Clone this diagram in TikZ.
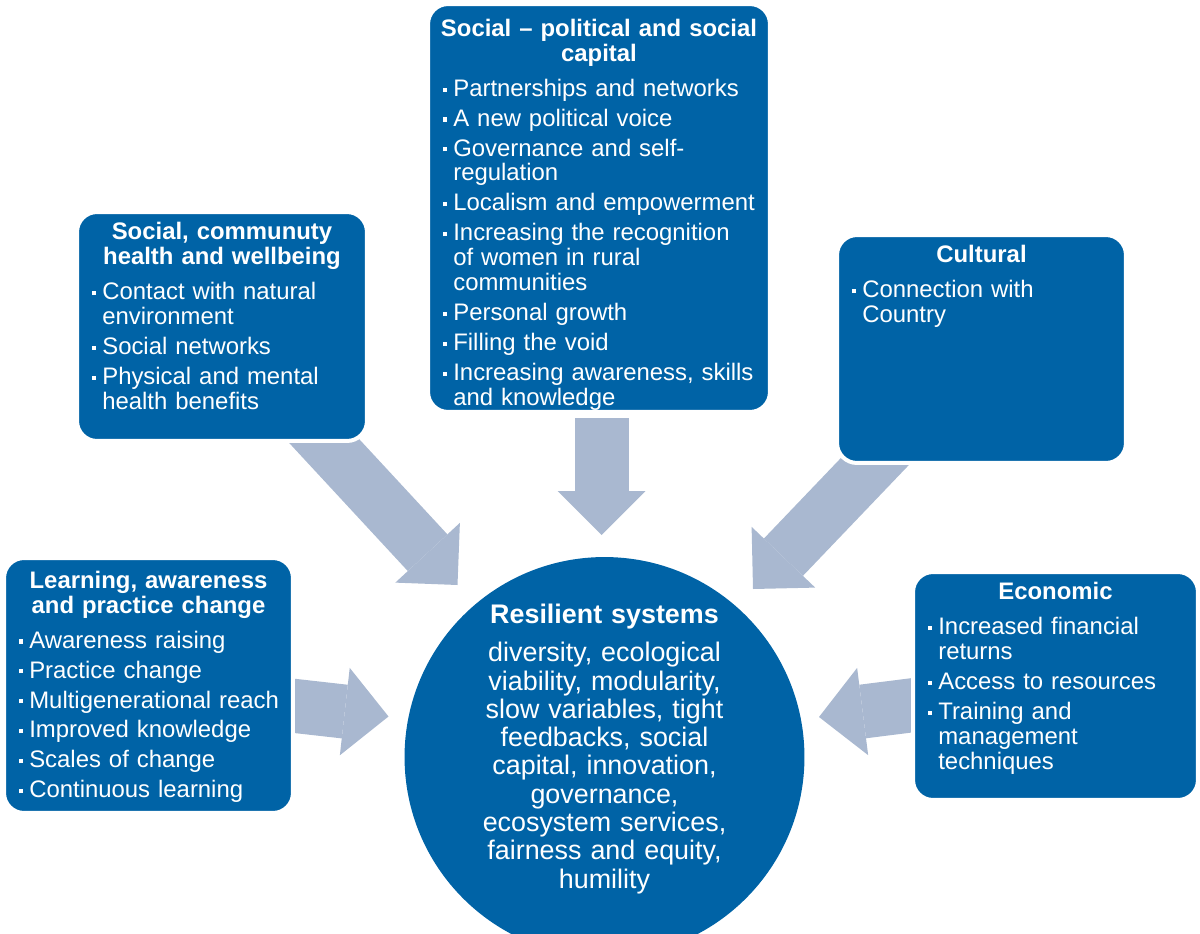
\documentclass[tikz,border=0pt]{standalone}
\usepackage{fontspec}
\setmainfont{Liberation Sans}
\usepackage{xcolor}
\usetikzlibrary{arrows.meta, positioning, backgrounds}

\definecolor{panelblue}{RGB}{0,99,166}
\definecolor{arrowgrey}{RGB}{169,184,208}

\newcommand{\paneltitle}[1]{{\centering\bfseries #1\par}\vspace{5.7pt}}
\newcommand{\panelitem}[1]{\hangindent=8.7pt\hangafter=1\noindent\makebox[8.7pt][l]{\hspace{2.7pt}\rule[2.6pt]{2.3pt}{2.3pt}}#1\par\vspace{2.85pt}}

\begin{document}
\begin{tikzpicture}[x=0.02cm, y=-0.02cm,
    panel/.style={rectangle, rounded corners=0.4cm, fill=panelblue, draw=white, line width=0.08cm, inner sep=0pt},
    panel text/.style={text=white, align=left, inner sep=0pt, font={\fontsize{13.6}{14.2}\selectfont\hyphenpenalty=10000}},
    core text/.style={text=white, align=center, inner sep=0pt, text width=6.4cm, font={\fontsize{15.3}{16.1}\selectfont}},
    big arrow/.style={draw=arrowgrey, line width=1.08cm, -{Triangle[length=0.88cm, width=1.76cm, line width=0pt]}}
  ]

    \useasboundingbox (0,0) rectangle (1200,933);
    \clip (0,0) rectangle (1200,933);

    % panels round the core
    \node[panel, minimum width=6.84cm, minimum height=8.16cm] (capital) at (599,208) {};
    \node[panel, minimum width=5.8cm, minimum height=4.58cm] (health) at (222,326.5) {};
    \node[panel, minimum width=5.78cm, minimum height=4.56cm] (cultural) at (981.5,349) {};
    \node[panel, minimum width=5.78cm, minimum height=5.1cm] (learning) at (148.5,685.5) {};
    \node[panel, minimum width=5.7cm, minimum height=4.56cm] (economic) at (1055.5,686) {};
    \node[circle, fill=panelblue, inner sep=0pt, minimum size=8cm] (core) at (604.5,757) {};

    \node[panel text, text width=6.44cm, below=0.33cm of capital.north] (capital text) {%
        \paneltitle{Social -- political and social\\capital}%
        \panelitem{Partnerships and networks}%
        \panelitem{A new political voice}%
        \panelitem{Governance and self-\newline regulation}%
        \panelitem{Localism and empowerment}%
        \panelitem{Increasing the recognition\newline of women in rural\newline communities}%
        \panelitem{Personal growth}%
        \panelitem{Filling the void}%
        \panelitem{Increasing awareness, skills\newline and knowledge}};

    \node[panel text, text width=5.4cm, below=0.24cm of health.north] (health text) {%
        \paneltitle{Social, communuty\\health and wellbeing}%
        \panelitem{Contact with natural\newline environment}%
        \panelitem{Social networks}%
        \panelitem{Physical and mental\newline health benefits}};

    \node[panel text, text width=5.38cm, below=0.24cm of cultural.north] (cultural text) {%
        \paneltitle{Cultural}%
        \panelitem{Connection with\newline Country}};

    \node[panel text, text width=5.38cm, below=0.29cm of learning.north] (learning text) {%
        \paneltitle{Learning, awareness\\and practice change}%
        \panelitem{Awareness raising}%
        \panelitem{Practice change}%
        \panelitem{Multigenerational reach}%
        \panelitem{Improved knowledge}%
        \panelitem{Scales of change}%
        \panelitem{Continuous learning}};

    \node[panel text, text width=5.3cm, below=0.24cm of economic.north] (economic text) {%
        \paneltitle{Economic}%
        \panelitem{Increased financial\newline returns}%
        \panelitem{Access to resources}%
        \panelitem{Training and\newline management\newline techniques}};

    \node[core text, below=0.94cm of core.north] (core label) {%
        {\bfseries Resilient systems\par}\vspace{5.7pt}
        diversity, ecological\\viability, modularity,\\slow variables, tight\\feedbacks, social\\capital, innovation,\\governance,\\ecosystem services,\\fairness and equity,\\humility};

    % block arrows, partly under the panels
    \begin{scope}[on background layer]
        \coordinate (capital tail) at (601.5,418);
        \coordinate (capital tip) at (601.5,535);
        \coordinate (health tail) at (301,416);
        \coordinate (health tip) at (457.5,585);
        \coordinate (cultural tail) at (905,430);
        \coordinate (cultural tip) at (753,589);
        \coordinate (learning tail) at (269,703);
        \coordinate (learning tip) at (388.5,716.5);
        \coordinate (economic tail) at (938,702);
        \coordinate (economic tip) at (819,717);

        \draw[big arrow] (capital tail) -- (capital tip);
        \draw[big arrow] (health tail) -- (health tip);
        \draw[big arrow] (cultural tail) -- (cultural tip);
        \draw[big arrow] (learning tail) -- (learning tip);
        \draw[big arrow] (economic tail) -- (economic tip);
    \end{scope}

\end{tikzpicture}
\end{document}
